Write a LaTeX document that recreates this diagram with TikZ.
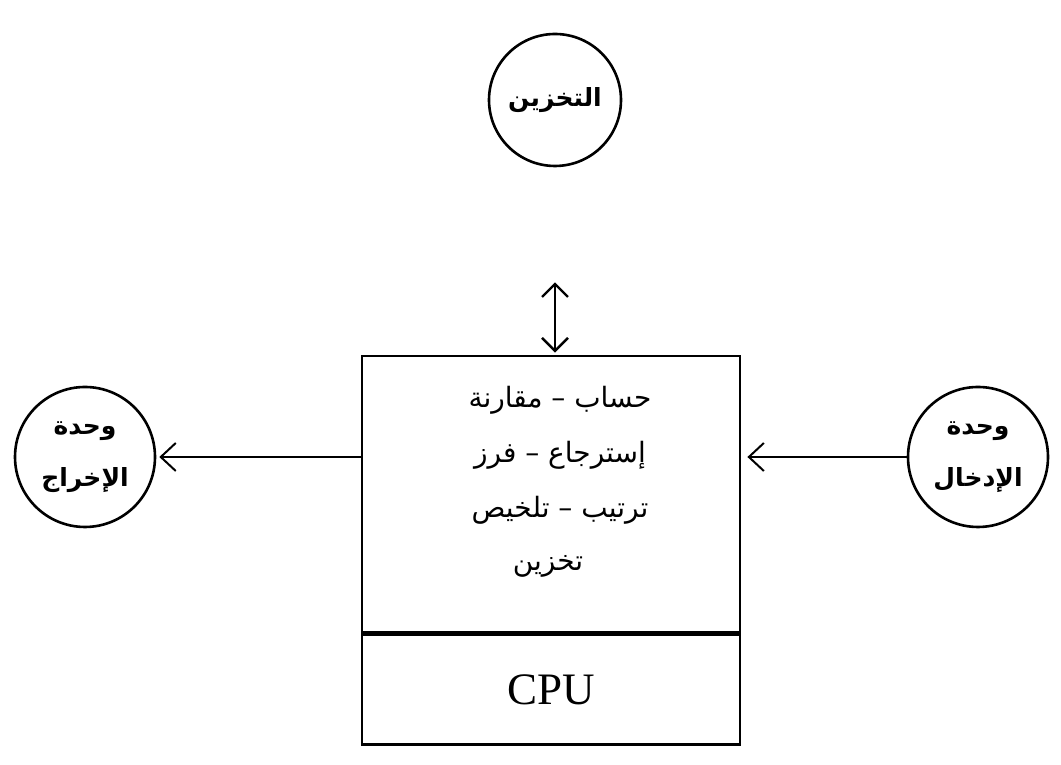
\documentclass[tikz,border=0pt]{standalone}
\usepackage{fontspec}
\usetikzlibrary{arrows.meta,positioning,calc}
\newfontfamily\arabicfont[Script=Arabic]{DejaVu Sans}
\newfontfamily\cpufont{Liberation Serif}
\TeXXeTstate=1
\newcommand{\artxt}[1]{{\arabicfont\beginR #1\endR}}

\begin{document}
\begin{tikzpicture}[x=1pt,y=1pt,
  unit/.style={circle,draw,line width=2.6pt,inner sep=0pt,minimum size=140pt,
    align=center,font=\fontsize{25}{52}\selectfont\bfseries},
  box/.style={rectangle,draw,line width=2.8pt,inner sep=0pt,minimum width=378pt},
  optext/.style={inner sep=0pt,font=\fontsize{28}{30}\selectfont},
  link/.style={line width=2pt,-{Straight Barb[length=15pt,width=28pt]}},
  dlink/.style={line width=2.4pt,{Straight Barb[length=13pt,width=26pt]}-{Straight Barb[length=13pt,width=26pt]}}]

\useasboundingbox (0,0) rectangle (1061,765);

% ---- vahdat: input, output, storage ----
\node[unit] (out) at (85,308) {\artxt{وحدة}\\\artxt{الإخراج}};
\node[unit] (in) at (978,308) {\artxt{وحدة}\\\artxt{الإدخال}};
\node[unit,minimum size=132pt] (store) at (555,665) {\artxt{التخزين}};

% ---- processing box + CPU ----
\node[box,minimum height=276pt] (proc) at (551,271) {};
\node[box,minimum height=110pt,below=0pt of proc,font=\fontsize{45}{48}\selectfont] (cpu) {\cpufont CPU};

% operations, one line each
\node[optext] (op1) at (560,365) {\artxt{حساب – مقارنة}};
\node[optext] (op2) at (560,310) {\artxt{إسترجاع – فرز}};
\node[optext] (op3) at (560,255) {\artxt{ترتيب – تلخيص}};
\node[optext] (op4) at (548,199) {\artxt{تخزين}};

% ---- arrows ----
\draw[link,shorten >=6pt] (in.west) -- (proc.east |- in.west);
\draw[link,shorten >=3pt] (proc.west |- out.east) -- (out.east);
\draw[dlink,shorten <=115pt,shorten >=2pt] (store.south) -- (store.south |- proc.north);

\end{tikzpicture}
\end{document}
